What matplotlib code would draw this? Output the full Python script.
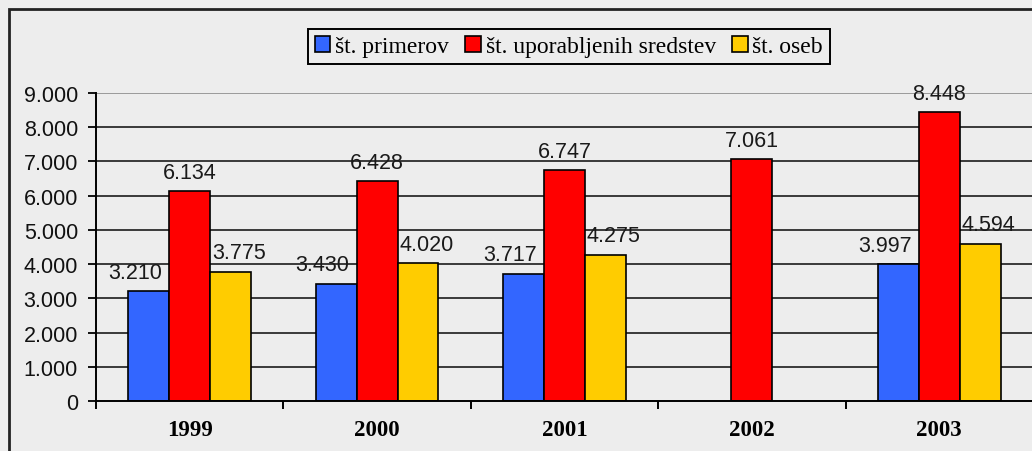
import numpy as np
import matplotlib
matplotlib.use("Agg")
import matplotlib.pyplot as plt
from matplotlib.patches import Rectangle

years = ["1999", "2000", "2001", "2002", "2003"]
primerov = [3210, 3430, 3717, np.nan, 3997]
sredstev = [6134, 6428, 6747, 7061, 8448]
oseb = [3775, 4020, 4275, np.nan, 4594]

names = ["št. primerov", "št. uporabljenih sredstev", "št. oseb"]
colors = ["#3366FF", "#FF0000", "#FFCC00"]
series = [primerov, sredstev, oseb]

W, H = 1032, 452
bg = "#EDEDED"

fig = plt.figure(figsize=(W / 100, H / 100), dpi=100, facecolor=bg)
# outer chart frame (right/bottom edges are cut off in the original)
fig.patches.append(Rectangle((9 / W, -0.1), 1.2, 1.1 - 10 / H,
                             transform=fig.transFigure, fill=False,
                             edgecolor="#222222", linewidth=2))

ax = fig.add_axes([96 / W, 50 / H, 940 / W, 308 / H])
ax.set_facecolor(bg)

x = np.arange(len(years))
bw = 0.218
label_dx = [-10, 0, 6]  # value labels sit a bit off-centre like in the original

for i in range(3):
    pos = x + (i - 1) * bw
    vals = np.array(series[i], dtype=float)
    ax.bar(pos, vals, width=bw, color=colors[i], edgecolor="black",
           linewidth=1.2, zorder=3, label=names[i])
    for p, v in zip(pos, vals):
        if np.isnan(v):
            continue
        txt = f"{int(v):,}".replace(",", ".")
        ax.annotate(txt, (p, v), xytext=(label_dx[i], 6),
                    textcoords="offset points", ha="center", va="bottom",
                    fontsize=15.5, family="Liberation Sans", color="#1a1a1a",
                    zorder=5)

ax.set_xlim(-0.484, 4.516)
ax.set_ylim(0, 9000)
ax.set_yticks(range(0, 9001, 1000))
ax.set_yticklabels([f"{v:,}".replace(",", ".") for v in range(0, 9001, 1000)],
                   fontsize=15.5, family="Liberation Sans")

for v in range(1000, 9000, 1000):
    ax.axhline(v, color="#3a3a3a", linewidth=1.4, zorder=1)
ax.axhline(9000, color="#9a9a9a", linewidth=1.4, zorder=1)

ax.set_xticks(np.arange(-0.5, 5.0, 1.0))
ax.set_xticklabels([])
ax.set_xticks(x, minor=True)
ax.set_xticklabels(years, minor=True, fontsize=16.5, family="Liberation Serif",
                   fontweight="bold")
ax.tick_params(axis="x", which="minor", length=0, pad=13)
ax.tick_params(axis="x", which="major", length=6, width=1.4, direction="out")
ax.tick_params(axis="y", length=6, width=1.4, direction="out", pad=7,
               colors="#111111")

for s in ["top", "right"]:
    ax.spines[s].set_visible(False)
ax.spines["left"].set_linewidth(1.4)
ax.spines["bottom"].set_linewidth(1.4)
ax.spines["left"].set_zorder(4)
ax.spines["bottom"].set_zorder(4)

leg = fig.legend(loc="upper center", bbox_to_anchor=(569 / W, 1 - 30 / H),
                 ncol=3, frameon=True, fancybox=False, edgecolor="black",
                 facecolor=bg, framealpha=1,
                 prop={"family": "Liberation Serif", "size": 17},
                 handlelength=0.65, handleheight=0.65, handletextpad=0.2,
                 columnspacing=0.7, borderpad=0.3, borderaxespad=0)
leg.get_frame().set_linewidth(1.4)

fig.savefig("out.png", dpi=100, facecolor=bg)
